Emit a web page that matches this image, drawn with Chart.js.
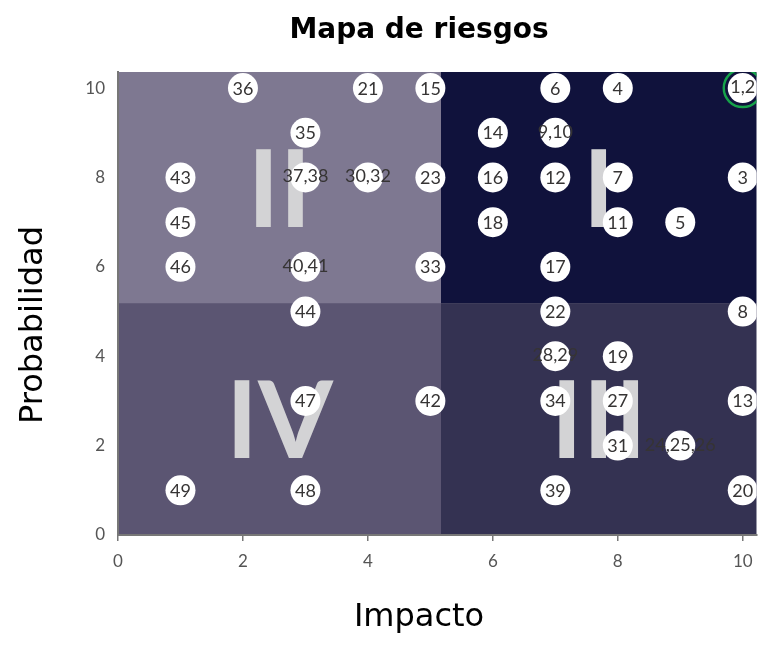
<!DOCTYPE html>
<html>
<head>
<meta charset="utf-8">
<script src="https://cdn.jsdelivr.net/npm/chart.js@4.4.1/dist/chart.umd.min.js"></script>
<style>
  html, body { margin: 0; padding: 0; background: #fff; overflow: hidden; }
  /* a bit wider than the window: Chart.js keeps ~21px free on the right for the last tick */
  #wrap { width: 778px; height: 656px; }
</style>
</head>
<body>
<div id="wrap"><canvas id="c"></canvas></div>
<script>
// risk ids, impact (x) and probability (y), row by row from the top
const riskLabels = ['36', '21', '15', '6', '4', '1,2',
                    '35', '14', '9,10',
                    '43', '37,38', '30,32', '23', '16', '12', '7', '3',
                    '45', '18', '11', '5',
                    '46', '40,41', '33', '17',
                    '44', '22', '8',
                    '28,29', '19',
                    '47', '42', '34', '27', '13',
                    '31', '24,25,26',
                    '49', '48', '39', '20'];
const impacto = [2, 4, 5, 7, 8, 10,
                 3, 6, 7,
                 1, 3, 4, 5, 6, 7, 8, 10,
                 1, 6, 8, 9,
                 1, 3, 5, 7,
                 3, 7, 10,
                 7, 8,
                 3, 5, 7, 8, 10,
                 8, 9,
                 1, 3, 7, 10];
const probabilidad = [10, 10, 10, 10, 10, 10,
                      9, 9, 9,
                      8, 8, 8, 8, 8, 8, 8, 8,
                      7, 7, 7, 7,
                      6, 6, 6, 6,
                      5, 5, 5,
                      4, 4,
                      3, 3, 3, 3, 3,
                      2, 2,
                      1, 1, 1, 1];
const tickValues = [0, 2, 4, 6, 8, 10];
const highlighted = ['1,2'];
const quadrantNames = ['II', 'I', 'IV', 'III'];

const chartTitle = 'Mapa de riesgos';
const xTitle = 'Impacto';
const yTitle = 'Probabilidad';

const splitX = 5.17;
const splitY = 5.19;

const points = impacto.map((v, i) => ({ x: v, y: probabilidad[i], label: riskLabels[i] }));
const ringPoints = points.filter(p => highlighted.includes(p.label));

function centeredText(ctx, text, cx, cy) {
    const m = ctx.measureText(text);
    ctx.fillText(text, cx, cy + (m.actualBoundingBoxAscent - m.actualBoundingBoxDescent) / 2);
}

const quadrantPlugin = {
    id: 'quadrants',
    beforeDraw(chart) {
        const { ctx, chartArea: a, scales: { x, y } } = chart;
        const sx = x.getPixelForValue(splitX);
        const sy = y.getPixelForValue(splitY);
        const boxes = [
            [a.left, a.top, sx, sy, '#7e7891'],
            [sx, a.top, a.right, sy, '#10123c'],
            [a.left, sy, sx, a.bottom, '#5b5572'],
            [sx, sy, a.right, a.bottom, '#343252']
        ];
        ctx.save();
        boxes.forEach(([l, t, r, b, col], i) => {
            ctx.fillStyle = col;
            ctx.fillRect(l, t, r - l, b - t);
            ctx.fillStyle = '#d3d3d5';
            ctx.font = 'bold 108px Lato';
            ctx.textAlign = 'center';
            ctx.textBaseline = 'alphabetic';
            centeredText(ctx, quadrantNames[i], (l + r) / 2, (t + b) / 2);
        });
        ctx.restore();
    },
    afterDatasetsDraw(chart) {
        const { ctx } = chart;
        const meta = chart.getDatasetMeta(0);
        ctx.save();
        ctx.fillStyle = '#363434';
        ctx.font = '18px Lato';
        ctx.textAlign = 'center';
        ctx.textBaseline = 'alphabetic';
        meta.data.forEach((el, i) => {
            centeredText(ctx, points[i].label, el.x, el.y);
        });
        ctx.restore();
    },
    afterDraw(chart) {
        const { ctx } = chart;
        ctx.save();
        ctx.fillStyle = '#000';
        ctx.textAlign = 'center';
        ctx.textBaseline = 'alphabetic';
        ctx.font = 'bold 28px "DejaVu Sans"';
        centeredText(ctx, chartTitle, 419, 30);
        ctx.font = '32px "DejaVu Sans"';
        centeredText(ctx, xTitle, 419, 618);
        ctx.translate(30, 325);
        ctx.rotate(-Math.PI / 2);
        centeredText(ctx, yTitle, 0, 0);
        ctx.restore();
    }
};

new Chart(document.getElementById('c'), {
    type: 'scatter',
    data: {
        datasets: [
            {
                data: points,
                pointRadius: 15,
                pointHoverRadius: 15,
                backgroundColor: '#ffffff',
                borderWidth: 0
            },
            {
                data: ringPoints,
                pointRadius: 19,
                pointHoverRadius: 19,
                backgroundColor: 'rgba(0,0,0,0)',
                borderColor: '#16a24a',
                borderWidth: 2.5
            }
        ]
    },
    options: {
        responsive: true,
        maintainAspectRatio: false,
        animation: false,
        layout: { padding: { top: 72, right: 1, left: 0, bottom: 0 } },
        plugins: { legend: { display: false }, tooltip: { enabled: false } },
        scales: {
            x: {
                type: 'linear',
                min: 0,
                max: 10.22,
                afterBuildTicks: s => { s.ticks = tickValues.map(v => ({ value: v })); },
                afterFit: s => { s.height = 121; },
                grid: { drawOnChartArea: false, tickLength: 6, color: '#777', lineWidth: 1.5 },
                border: { color: '#777', width: 2 },
                ticks: { color: '#555', font: { family: 'Lato', size: 17 }, padding: 10 }
            },
            y: {
                type: 'linear',
                min: 0,
                max: 10.36,
                afterBuildTicks: s => { s.ticks = tickValues.map(v => ({ value: v })); },
                afterFit: s => { s.width = 118; },
                grid: { display: false, drawTicks: false },
                border: { color: '#777', width: 2 },
                ticks: { color: '#555', font: { family: 'Lato', size: 17 }, padding: 13 }
            }
        }
    },
    plugins: [quadrantPlugin]
});
</script>
</body>
</html>
